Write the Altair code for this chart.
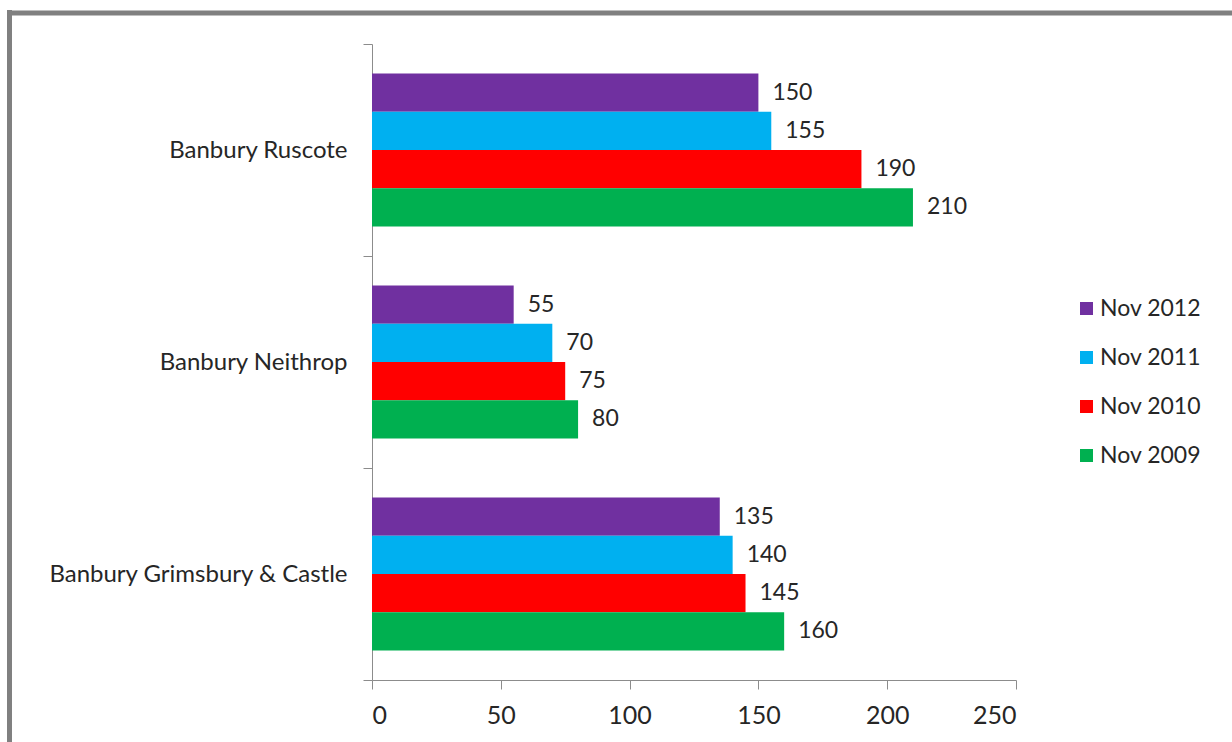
import altair as alt
import pandas as pd

categories = ["Banbury Ruscote", "Banbury Neithrop", "Banbury Grimsbury & Castle"]
years = ["Nov 2012", "Nov 2011", "Nov 2010", "Nov 2009"]
colors = ["#7030A0", "#00B0F0", "#FF0000", "#00B050"]
values = {
    "Nov 2012": [150, 55, 135],
    "Nov 2011": [155, 70, 140],
    "Nov 2010": [190, 75, 145],
    "Nov 2009": [210, 80, 160],
}
x_ticks = [0, 50, 100, 150, 200, 250]

rows = []
for y in years:
    for c, v in zip(categories, values[y]):
        rows.append({"category": c, "year": y, "value": v})
df = pd.DataFrame(rows)

FONT = "Lato"
TXT = "#262626"
AX = "#8c8c8c"

y_enc = alt.Y(
    "category:N",
    sort=categories,
    title=None,
    scale=alt.Scale(paddingInner=0, paddingOuter=0),
    axis=alt.Axis(
        tickBand="extent",
        tickSize=9,
        tickColor=AX,
        domainColor=AX,
        labelFont=FONT,
        labelFontSize=24,
        labelColor=TXT,
        labelPadding=16,
        labelLimit=400,
    ),
)
yoff = alt.YOffset("year:N", sort=years, scale=alt.Scale(paddingInner=0, paddingOuter=0.77))
x_enc = alt.X(
    "value:Q",
    title=None,
    scale=alt.Scale(domain=[0, 250], nice=False),
    axis=alt.Axis(
        values=x_ticks,
        grid=False,
        tickSize=9,
        tickColor=AX,
        domainColor=AX,
        labelFont=FONT,
        labelFontSize=25,
        labelColor=TXT,
        labelPadding=14,
    ),
)

bars = alt.Chart(df).mark_bar().encode(
    x=x_enc,
    y=y_enc,
    yOffset=yoff,
    color=alt.Color(
        "year:N",
        sort=years,
        scale=alt.Scale(domain=years, range=colors),
        legend=alt.Legend(
            title=None,
            orient="none",
            legendX=703,
            legendY=253,
            symbolType="square",
            symbolSize=169,
            symbolStrokeWidth=0,
            labelFont=FONT,
            labelFontSize=23,
            labelColor=TXT,
            labelOffset=2,
            rowPadding=25,
            padding=0,
        ),
    ),
)

labels = alt.Chart(df).mark_text(
    align="left", baseline="middle", dx=14, font=FONT, fontSize=23, color=TXT
).encode(
    x="value:Q",
    y=alt.Y("category:N", sort=categories),
    yOffset=alt.YOffset("year:N", sort=years),
    text="value:Q",
)

frame_df = pd.DataFrame({"k": [0]})
left_border = alt.Chart(frame_df).mark_rule(color="#808080", strokeWidth=5).encode(
    x=alt.value(-362.5), y=alt.value(-34), y2=alt.value(720)
)
top_border = alt.Chart(frame_df).mark_rule(color="#808080", strokeWidth=5).encode(
    x=alt.value(-365), x2=alt.value(870), y=alt.value(-31)
)

chart = (
    alt.layer(bars, labels, left_border, top_border)
    .properties(
        width=644,
        height=636,
        autosize=alt.AutoSizeParams(type="none"),
        padding={"left": 372, "top": 44, "right": 216, "bottom": 62},
        background="white",
    )
    .configure_view(stroke=None)
)

chart.save("out.html", embed_options={"renderer": "svg", "actions": False})
